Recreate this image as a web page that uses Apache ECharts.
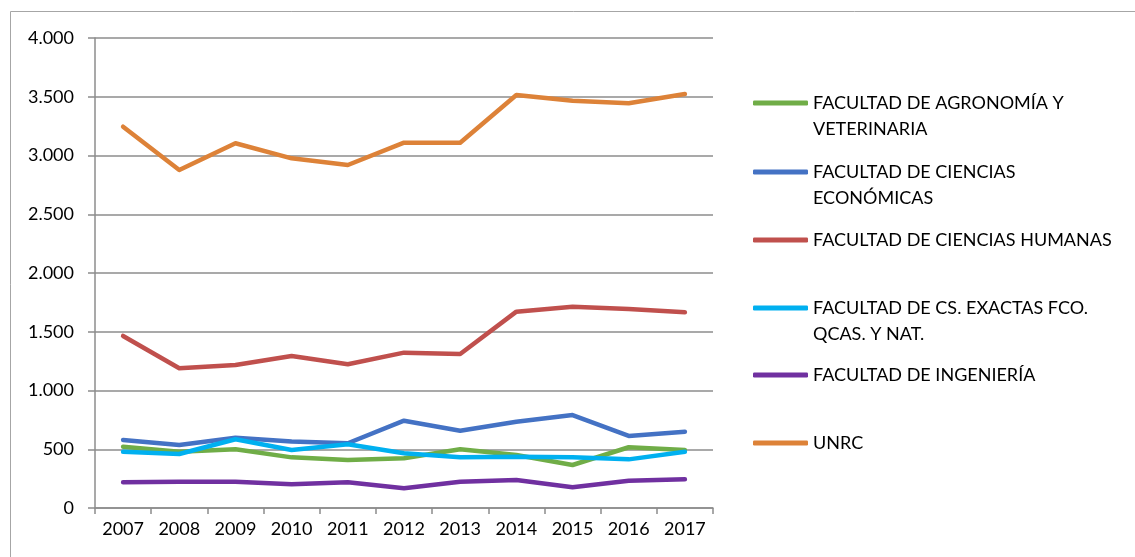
<!DOCTYPE html>
<html>
<head>
<meta charset="utf-8">
<script src="https://cdn.jsdelivr.net/npm/echarts@6/dist/echarts.min.js"></script>
<style>
  html, body { margin: 0; padding: 0; background: #fff; }
  #chart { width: 1135px; height: 557px; }
</style>
</head>
<body>
<div id="chart"></div>
<script>
var years = ['2007', '2008', '2009', '2010', '2011', '2012', '2013', '2014', '2015', '2016', '2017'];

var agronomia = [522, 479, 500, 431, 409, 423, 500, 451, 366, 517, 494];
var economicas = [579, 536, 598, 566, 551, 743, 658, 734, 791, 613, 649];
var humanas = [1464, 1189, 1217, 1294, 1223, 1322, 1311, 1671, 1713, 1694, 1665];
var exactas = [479, 460, 585, 494, 542, 466, 431, 437, 431, 414, 479];
var ingenieria = [219, 224, 224, 202, 219, 168, 224, 238, 176, 232, 244];
var unrc = [3245, 2877, 3104, 2976, 2919, 3109, 3109, 3515, 3466, 3444, 3523];

var seriesNames = [
  'FACULTAD DE AGRONOMÍA Y VETERINARIA',
  'FACULTAD DE CIENCIAS ECONÓMICAS',
  'FACULTAD DE CIENCIAS HUMANAS',
  'FACULTAD DE CS. EXACTAS FCO. QCAS. Y NAT.',
  'FACULTAD DE INGENIERÍA',
  'UNRC'
];
// how the legend breaks each name
var legendLabels = [
  'FACULTAD DE AGRONOMÍA Y\nVETERINARIA',
  'FACULTAD DE CIENCIAS\nECONÓMICAS',
  'FACULTAD DE CIENCIAS HUMANAS',
  'FACULTAD DE CS. EXACTAS FCO.\nQCAS. Y NAT.',
  'FACULTAD DE INGENIERÍA',
  'UNRC'
];
var seriesData = [agronomia, economicas, humanas, exactas, ingenieria, unrc];
var colors = ['#70ad47', '#4472c4', '#c0504d', '#00b0f0', '#7030a0', '#dd8238'];

var fontFamily = 'Lato, "Noto Sans", sans-serif';
var lineH = 26;

var chart = echarts.init(document.getElementById('chart'));

// one legend per entry so the uneven Excel-like spacing can be kept
var legendY = [103, 172, 240, 308, 375, 443];
var legends = [];
for (var i = 0; i < seriesNames.length; i++) {
  var twoLines = legendLabels[i].indexOf('\n') >= 0;
  // an empty first line keeps the icon level with the first text line
  var lbl = twoLines ? ' \n' + legendLabels[i] : legendLabels[i];
  legends.push({
    data: [seriesNames[i]],
    left: 753,
    top: legendY[i] - (twoLines ? lineH * 1.5 : lineH / 2),
    padding: 0,
    itemWidth: 55,
    itemHeight: 5,
    icon: 'roundRect',
    selectedMode: false,
    formatter: (function (t) { return function () { return t; }; })(lbl),
    textStyle: {
      color: '#000',
      fontSize: 18,
      fontFamily: fontFamily,
      lineHeight: lineH
    }
  });
}

var series = [];
for (var j = 0; j < seriesNames.length; j++) {
  series.push({
    name: seriesNames[j],
    type: 'line',
    data: seriesData[j],
    symbol: 'none',
    color: colors[j],
    lineStyle: { width: 4.5, color: colors[j], cap: 'round', join: 'round' },
    itemStyle: { color: colors[j] }
  });
}

var option = {
  animation: false,
  backgroundColor: '#fff',
  graphic: [{
    type: 'rect',
    left: 8,
    top: 9,
    shape: { width: 1140, height: 560 },
    style: { fill: 'none', stroke: '#a6a6a6', lineWidth: 1 },
    silent: true
  }],
  legend: legends,
  grid: {
    left: 95,
    right: 422,
    top: 38,
    bottom: 49
  },
  xAxis: {
    type: 'category',
    data: years,
    boundaryGap: true,
    axisLine: { show: true, lineStyle: { color: '#8c8c8c', width: 1.5 } },
    axisTick: { show: true, length: 6, lineStyle: { color: '#8c8c8c', width: 1.5 } },
    axisLabel: { color: '#000', fontSize: 18, fontFamily: fontFamily, margin: 12 },
    splitLine: { show: false }
  },
  yAxis: {
    type: 'value',
    min: 0,
    max: 4000,
    interval: 500,
    axisLine: { show: true, lineStyle: { color: '#8c8c8c', width: 1.5 } },
    axisTick: { show: true, length: 7, lineStyle: { color: '#8c8c8c', width: 1.5 } },
    axisLabel: {
      color: '#000',
      fontSize: 18,
      fontFamily: fontFamily,
      margin: 21,
      formatter: function (v) {
        return String(v).replace(/\B(?=(\d{3})+(?!\d))/g, '.');
      }
    },
    splitLine: { show: true, lineStyle: { color: '#8c8c8c', width: 1.5 } }
  },
  series: series
};

chart.setOption(option);
</script>
</body>
</html>
